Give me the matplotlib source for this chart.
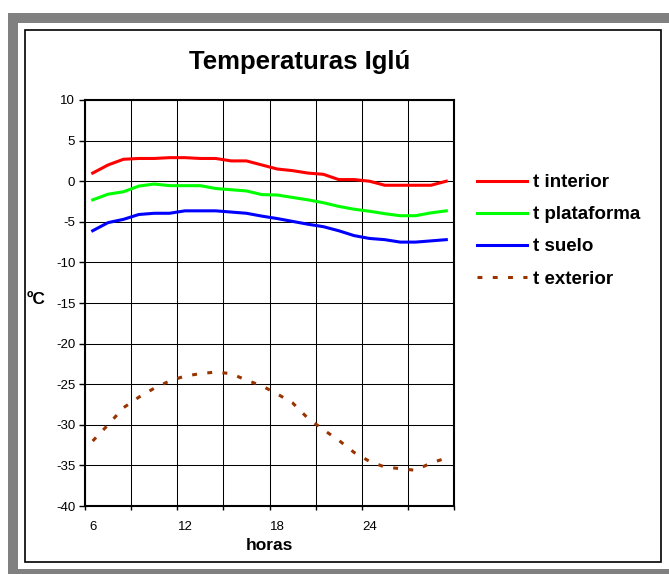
import matplotlib
matplotlib.use('Agg')
import matplotlib.pyplot as plt
from matplotlib.patches import Rectangle
from matplotlib.ticker import NullFormatter

# horas 6..29 (categorias de Excel)
horas = list(range(6, 30))
etiquetas = [6, 12, 18, 24]

t_interior = [1.0, 2.0, 2.7, 2.8, 2.8, 2.9, 2.9, 2.8, 2.8, 2.5, 2.5, 2.0,
              1.5, 1.3, 1.0, 0.85, 0.2, 0.2, 0.0, -0.5, -0.5, -0.5, -0.5, 0.0]
t_plataforma = [-2.3, -1.6, -1.3, -0.6, -0.35, -0.55, -0.55, -0.55, -0.9, -1.05, -1.2, -1.65,
                -1.7, -2.0, -2.3, -2.65, -3.1, -3.45, -3.7, -4.0, -4.25, -4.25, -3.9, -3.65]
t_suelo = [-6.1, -5.1, -4.7, -4.1, -3.95, -3.95, -3.65, -3.65, -3.65, -3.8, -3.95, -4.3,
           -4.6, -4.95, -5.3, -5.6, -6.1, -6.7, -7.05, -7.2, -7.5, -7.5, -7.35, -7.2]
t_exterior = [-32.0, -30.0, -27.9, -26.6, -25.5, -24.6, -24.0, -23.7, -23.5, -23.7, -24.5, -25.2,
              -26.2, -27.3, -29.2, -30.6, -31.9, -33.4, -34.5, -35.2, -35.4, -35.6, -34.7, -34.1]

W, H = 669, 574

plt.rcParams['font.family'] = ['Liberation Sans', 'DejaVu Sans']
plt.rcParams['axes.unicode_minus'] = False

fig = plt.figure(figsize=(W / 100, H / 100), dpi=100)


def box(x0, y0, x1, y1, **kw):
    r = Rectangle((x0 / W, 1 - y1 / H), (x1 - x0) / W, (y1 - y0) / H,
                  transform=fig.transFigure, zorder=-10, **kw)
    fig.add_artist(r)


# marco gris + borde negro del grafico
box(8, 13, 700, 600, facecolor='#808080', edgecolor='none')
box(18, 23, 669, 569, facecolor='white', edgecolor='none')
box(25, 30, 661, 562, facecolor='white', edgecolor='black', lw=1.2)

ax = fig.add_axes([85 / W, 1 - 506 / H, 369 / W, 406 / H])
ax.plot(horas, t_interior, color='#FF0000', lw=2.2, label='t interior')
ax.plot(horas, t_plataforma, color='#00FF00', lw=2.2, label='t plataforma')
ax.plot(horas, t_suelo, color='#0000FF', lw=2.2, label='t suelo')
ax.plot(horas, t_exterior, color='#993300', lw=2.2, dashes=(1.6, 3.4),
        dash_capstyle='butt', label='t exterior')

ax.set_xlim(horas[0] - 0.5, horas[-1] + 0.5)
ax.set_ylim(-40, 10)
ax.set_yticks(range(-40, 11, 5))

bordes = [h - 0.5 for h in horas[::3]] + [horas[-1] + 0.5]
ax.set_xticks(bordes)
ax.xaxis.set_major_formatter(NullFormatter())
ax.set_xticks(etiquetas, minor=True)
ax.set_xticklabels([str(e) for e in etiquetas], minor=True)
ax.tick_params(axis='x', which='major', direction='out', length=3, width=1, color='black')
ax.tick_params(axis='x', which='minor', length=0, pad=10.5, labelsize=9.5)
ax.tick_params(axis='y', direction='out', length=4, width=1, pad=3, labelsize=9.5)

ax.set_axisbelow(True)
ax.grid(True, which='major', color='black', lw=0.75)
for s in ax.spines.values():
    s.set_color('black')
    s.set_linewidth(1.5)

ax.set_xlabel('horas', fontsize=12.5, fontweight='bold', va='center')
ax.xaxis.set_label_coords(0.5, -40 / 406)
ax.set_ylabel('ºC', rotation=0, fontsize=12.5, fontweight='bold', va='center', ha='center')
ax.yaxis.set_label_coords((36.5 - 85) / 369, 0.5 + 4 / 406)

fig.text(300 / W, 1 - 62 / H, 'Temperaturas Iglú', ha='center', va='center',
         fontsize=18.5, fontweight='bold')

ax.legend(loc='upper left', bbox_to_anchor=(477 / W, 1 - 174 / H),
          bbox_transform=fig.transFigure, frameon=False, borderpad=0,
          borderaxespad=0, handlelength=2.67, handletextpad=0.3,
          labelspacing=0.8, prop=dict(weight='bold', size=13.5))

fig.savefig('out.png', dpi=100)
